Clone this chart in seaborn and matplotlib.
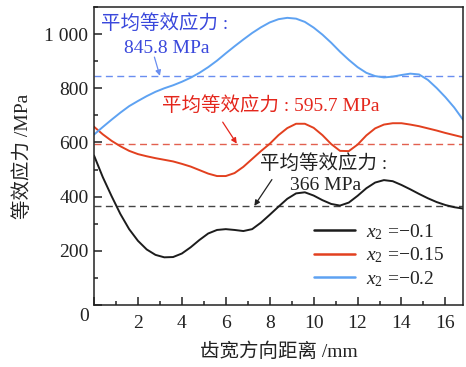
import numpy as np
import pandas as pd
import matplotlib
matplotlib.use("Agg")
import matplotlib.pyplot as plt
from matplotlib.ticker import MultipleLocator, FixedLocator, FixedFormatter
import seaborn as sns

# distance along tooth width (mm)
dist = [0.0, 0.4, 0.8, 1.2, 1.6, 2.0, 2.4, 2.8, 3.2, 3.6, 4.0, 4.4, 4.8, 5.2, 5.6, 6.0,
        6.4, 6.8, 7.2, 7.6, 8.0, 8.4, 8.8, 9.2, 9.6, 10.0, 10.4, 10.8, 11.2, 11.6, 12.0,
        12.4, 12.8, 13.2, 13.6, 14.0, 14.4, 14.8, 15.2, 15.6, 16.0, 16.4, 16.8]

# equivalent stress (MPa) for each x2
stress_01 = [552, 472, 402, 336, 280, 237, 205, 185, 176, 177, 190, 213, 240, 264, 277, 280,
             277, 273, 280, 304, 333, 363, 392, 412, 416, 404, 387, 373, 367, 378, 403,
             431, 452, 461, 457, 443, 427, 410, 394, 380, 369, 361, 356]
stress_015 = [658, 630, 606, 586, 569, 557, 549, 542, 536, 530, 521, 511, 498, 485, 476, 476,
              487, 510, 539, 568, 595, 627, 653, 669, 669, 654, 627, 594, 569, 568, 592,
              626, 652, 666, 671, 671, 666, 660, 652, 644, 635, 627, 619]
stress_02 = [629, 657, 684, 710, 734, 753, 771, 787, 800, 811, 824, 839, 857, 878, 902, 929,
             955, 980, 1004, 1025, 1043, 1055, 1060, 1057, 1045, 1024, 998, 968, 935, 905, 878,
             857, 845, 840, 843, 849, 854, 851, 831, 801, 767, 729, 684]

series_labels = ["$x_2$ =\u22120.1", "$x_2$ =\u22120.15", "$x_2$ =\u22120.2"]
mean_values = [366.0, 595.7, 845.8]

x_ticks = [0, 2, 4, 6, 8, 10, 12, 14, 16]
x_tick_labels = ["", "2", "4", "6", "8", "10", "12", "14", "16"]
y_ticks = [0, 200, 400, 600, 800, 1000]
y_tick_labels = ["", "200", "400", "600", "800", "1 000"]

line_colors = ["#1c1c1c", "#e2401f", "#5ea2f2"]
dash_colors = ["#444444", "#e2604f", "#6a8ef0"]
text_colors = ["#222222", "#e4261c", "#3a48dc"]
INK = "#222222"

df = pd.concat([
    pd.DataFrame({"x": dist, "y": s, "series": lab})
    for s, lab in zip([stress_01, stress_015, stress_02], series_labels)
], ignore_index=True)

sns.set_theme(style="ticks")
plt.rcParams["font.family"] = ["Liberation Serif", "Noto Sans CJK SC"]
plt.rcParams["mathtext.fontset"] = "custom"
plt.rcParams["mathtext.rm"] = "Liberation Serif"
plt.rcParams["mathtext.it"] = "Liberation Serif:italic"
plt.rcParams["axes.unicode_minus"] = True
plt.rcParams["xtick.direction"] = "in"
plt.rcParams["ytick.direction"] = "in"
plt.rcParams["xtick.bottom"] = True
plt.rcParams["ytick.left"] = True

FS = 14
fig = plt.figure(figsize=(4.66, 3.67), dpi=100)
ax = fig.add_axes([94 / 466, 62 / 367, 369 / 466, 298 / 367])

sns.lineplot(data=df, x="x", y="y", hue="series", palette=dict(zip(series_labels, line_colors)),
             hue_order=series_labels, linewidth=1.4, ax=ax, sort=False, estimator=None)

for m, c in zip(mean_values, dash_colors):
    ax.axhline(m, color=c, lw=1.0, dashes=(5, 3.2), zorder=1)

ax.set_xlim(0, 16.8)
ax.set_ylim(0, 1100)
ax.xaxis.set_major_locator(FixedLocator(x_ticks))
ax.xaxis.set_major_formatter(FixedFormatter(x_tick_labels))
ax.xaxis.set_minor_locator(MultipleLocator(1))
ax.yaxis.set_major_locator(FixedLocator(y_ticks))
ax.yaxis.set_major_formatter(FixedFormatter(y_tick_labels))
ax.yaxis.set_minor_locator(MultipleLocator(100))
ax.tick_params(which="both", direction="in", bottom=True, left=True, top=False, right=False,
               labelsize=FS, color=INK, labelcolor=INK, width=1.1)
ax.tick_params(which="major", length=5.5)
ax.tick_params(which="minor", length=3)
ax.tick_params(axis="y", which="major", pad=4)
ax.tick_params(axis="x", which="major", pad=7)
for s in ax.spines.values():
    s.set_linewidth(1.1)
    s.set_color(INK)
    s.set_visible(True)

ax.annotate("0", xy=(0, 0), xytext=(-7, -8), textcoords="offset points",
            ha="center", va="center", fontsize=FS, color=INK, annotation_clip=False)

ax.set_xlabel("齿宽方向距离 /mm", fontsize=FS, color=INK, labelpad=8)
ax.set_ylabel("等效应力 /MPa", fontsize=FS, color=INK, labelpad=9)

# mean-value callouts
ax.text(0.3, 1037, "平均等效应力 :", fontsize=FS, color=text_colors[2], ha="left", va="center")
ax.text(3.3, 945, "845.8 MPa", fontsize=FS, color=text_colors[2], ha="center", va="center")
ax.annotate("", xy=(3.0, mean_values[2]), xytext=(2.75, 915),
            arrowprops=dict(arrowstyle="-|>", color=dash_colors[2], lw=0.9,
                            mutation_scale=8, shrinkA=0, shrinkB=0))

ax.text(3.1, 735, "平均等效应力 : 595.7 MPa", fontsize=FS, color=text_colors[1],
        ha="left", va="center")
ax.annotate("", xy=(6.5, mean_values[1]), xytext=(5.86, 675),
            arrowprops=dict(arrowstyle="-|>", color=text_colors[1], lw=0.9,
                            mutation_scale=8, shrinkA=0, shrinkB=0))

ax.text(7.55, 522, "平均等效应力 :", fontsize=FS, color=text_colors[0], ha="left", va="center")
ax.text(10.55, 441, "366 MPa", fontsize=FS, color=text_colors[0], ha="center", va="center")
ax.annotate("", xy=(7.3, mean_values[0]), xytext=(8.1, 463),
            arrowprops=dict(arrowstyle="-|>", color=text_colors[0], lw=0.9,
                            mutation_scale=8, shrinkA=0, shrinkB=0))

handles, labels = ax.get_legend_handles_labels()
leg = ax.legend(handles, labels, loc="upper left", bbox_to_anchor=(0.575, 0.305),
                frameon=False, fontsize=FS, handlelength=2.1, handletextpad=0.6,
                labelspacing=0.2, borderaxespad=0)
for t in leg.get_texts():
    t.set_color(INK)
for h in leg.get_lines():
    h.set_linewidth(1.8)

fig.savefig("out.png", dpi=100)
